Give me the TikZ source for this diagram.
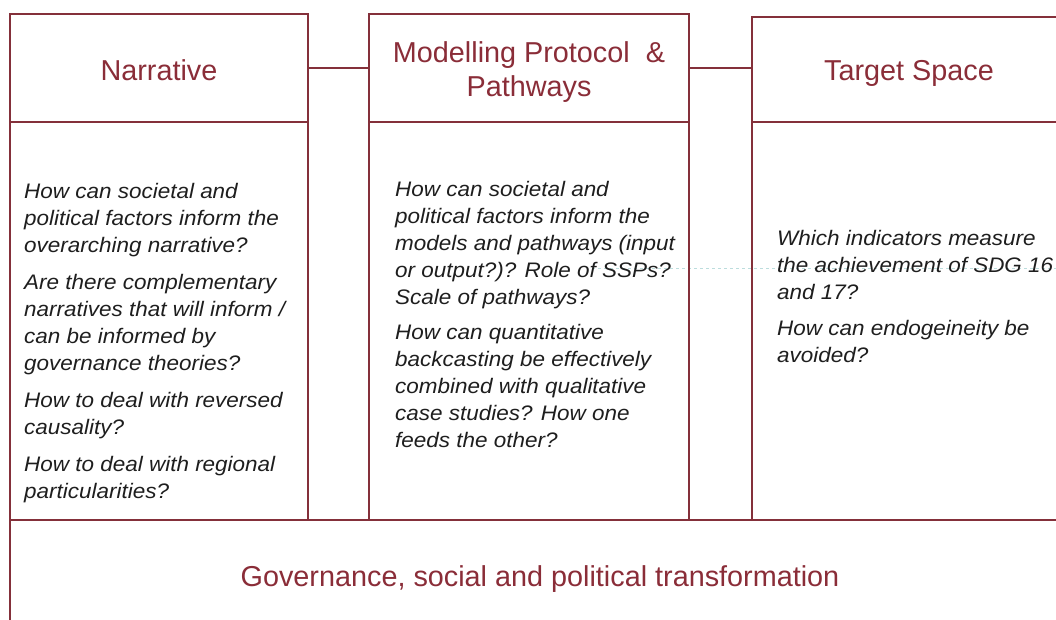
\documentclass[tikz,border=0pt]{standalone}
\usepackage{fontspec}
\setmainfont{Liberation Sans}
\newfontfamily\askfont{Liberation Sans}[FakeStretch=1.07]
\definecolor{wine}{HTML}{84303A}
\definecolor{winetext}{HTML}{8A2D38}
\definecolor{ink}{HTML}{1E1E1E}
\definecolor{guide}{HTML}{BCDDDD}
\begin{document}
\begin{tikzpicture}[x=1pt,y=-1pt,
	box/.style={draw=wine,line width=2.6pt,inner sep=0pt},
	title/.style={inner sep=0pt,text=winetext,font=\fontsize{28.8}{34}\selectfont,align=center},
	head/.style={box,title},
	onerow/.style={text height=#1,text depth=0pt},
	ask/.style={anchor=north west,inner sep=0pt,align=left,text=ink,font=\askfont\fontsize{21}{27}\selectfont\itshape}]
		\useasboundingbox (0,0) rectangle (1056,620);
		\clip (0,0) rectangle (1056,620);
		
		% faint guide line behind the questions
		\coordinate (g1) at (592,268);
		\coordinate (g2) at (1056,268);
		\draw[guide,dashed,line width=0.9pt] (g1)--(g2);
		
		% column headers
		\node[head,onerow=26pt,minimum width=298pt,minimum height=108pt] (narr) at (159,68) {Narrative};
		\node[box,minimum width=320pt,minimum height=108pt] (model) at (529,68) {};
		\node[title] (modeltitle) at ([yshift=-4pt]model.center) {Modelling Protocol\ \ \&\\Pathways};
		\node[head,onerow=23pt,minimum width=314pt,minimum height=105pt] (target) at (909,69.5) {Target Space};
		
		\draw[wine,line width=2.6pt](narr.east)--(model.west);
		\draw[wine,line width=2.6pt](model.east)--(model.east -| target.west);
		
		% column bodies
		\node[box,minimum width=298pt,minimum height=398pt] (narrbody) at (159,321) {};
		\node[box,minimum width=320pt,minimum height=398pt] (modelbody) at (529,321) {};
		\node[box,minimum width=314pt,minimum height=398pt] (targetbody) at (909,321) {};
		
		% questions
		\node[ask] (narrq) at (24,183) {How can societal and\\political factors inform the\\overarching narrative?\\[10pt]
			Are there complementary\\narratives that will inform /\\can be informed by\\governance theories?\\[10pt]
			How to deal with reversed\\causality?\\[10pt]
			How to deal with regional\\particularities?};
		\node[ask] (modelq) at (395,181) {How can societal and\\political factors inform the\\models and pathways (input\\or output?)? Role of SSPs?\\Scale of pathways?\\[8pt]
			How can quantitative\\backcasting be effectively\\combined with qualitative\\case studies? How one\\feeds the other?};
		\node[ask] (targetq) at (777,230.5) {Which indicators measure\\the achievement of SDG 16\\and 17?\\[9pt]
			How can endogeineity be\\avoided?};
		
		% base layer
		\node[head,onerow=20pt,minimum width=1060pt,minimum height=112pt] (gov) at (540,576) {Governance, social and political transformation};
\end{tikzpicture}
\end{document}
